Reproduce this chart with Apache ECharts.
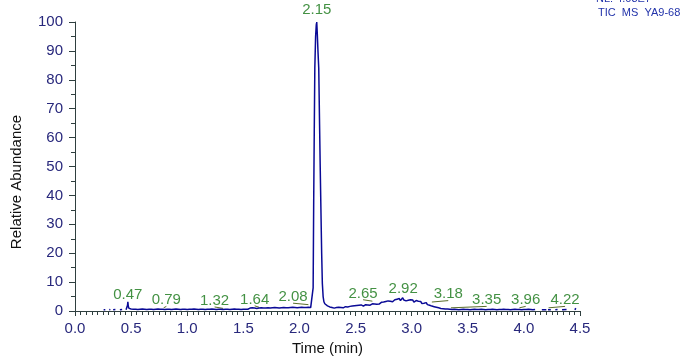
<!DOCTYPE html>
<html>
<head>
<meta charset="utf-8">
<script src="https://cdn.jsdelivr.net/npm/echarts@6/dist/echarts.min.js"></script>
<style>html,body{margin:0;padding:0;background:#fff}#c{width:685px;height:356px}</style>
</head>
<body>
<div id="c"></div>
<script>
// ---- data (retention time in min, relative abundance in %) ----
const earlyScans = [[0.255,0.4],[0.27,0.4],null,[0.305,0.5],[0.315,0.4],null,[0.34,0.4],[0.36,0.5],null,[0.40,0.4],[0.42,0.5],null];
const spikeTimes = [0.455,0.463,0.468,0.471,0.475,0.482,0.49];
const spikeValues = [0.4,0.7,2.0,3.2,1.6,0.9,0.7];
const base1Start = 0.50, base1Step = 0.02;
const base1Values = [0.7,0.6,0.6,0.5,0.6,0.7,0.6,0.5,0.6,0.6,
                     0.5,0.6,0.7,0.6,0.6,0.5,0.6,0.6,0.5,0.6,
                     0.7,0.6,0.5,0.6,0.6,0.5,0.6,0.6,0.7,0.6,
                     0.5,0.6,0.6,0.5,0.6,0.6,0.7,0.6,0.5,0.6,
                     0.6,0.5,0.6,0.6,0.5,0.6,0.7,0.6,0.6,0.5,
                     0.6,0.6,0.6];
const base2Start = 1.56, base2Step = 0.02;
const base2Values = [1.0,1.1,1.0,0.9,1.0,1.1,1.0,1.0,1.1,1.0,
                     1.1,1.2,1.1,1.0,1.1,1.2,1.1,1.1,1.2,1.3,
                     1.2,1.1,1.2,1.3,1.2,1.2,1.3,1.2];
const peakTimes  = [2.115,2.122,2.127,2.132,2.137,2.144,2.150,2.154,2.159,2.165,2.172,2.178,2.185,2.191,2.198,2.204,2.211,2.218,2.226,2.234];
const peakValues = [1.3,8,38,62,84,95,99,100,96,90,84,68,50,36,20,9.6,5,3.2,2.5,2.3];
const humpStart = 2.24, humpStep = 0.01;
const humpValues = [2.2,1.8,1.5,1.4,1.6,1.2,1.3,1.0,1.4,1.2,
                    1.1,1.3,1.0,1.2,1.4,1.1,1.3,1.5,1.2,1.4,
                    1.3,1.6,1.4,1.7,1.5,1.8,1.6,1.9,1.7,2.0,
                    1.8,2.1,1.9,1.7,2.0,2.2,1.9,2.1,2.3,2.0,
                    2.2,2.5,2.1,2.4,2.6,2.3,2.8,2.4,2.7,3.0,
                    2.6,3.1,2.8,3.3,2.9,3.5,3.0,3.4,3.8,3.2,
                    3.6,3.9,3.3,4.1,3.7,4.3,3.6,4.0,4.6,3.8,
                    4.2,3.5,4.0,3.7,3.3,3.9,3.4,3.8,3.1,3.5,
                    3.6,3.0,3.4,2.8,3.3,2.6,3.0,2.7,2.4,2.9,
                    2.2,2.6,2.0,2.3,1.7,2.0,1.5,1.7,1.3,1.4,
                    1.1,1.2,0.9,1.0,0.8,0.8,0.7,0.6,0.7,0.6,
                    0.6,0.5];
const tailStart = 3.36, tailStep = 0.02;
const tailValues = [0.5,0.6,0.5,0.4,0.5,0.6,0.5,0.5,0.4,0.5,
                    0.6,0.5,0.5,0.6,0.5,0.4,0.5,0.5,0.6,0.5,
                    0.4,0.5,0.5,0.6,0.5,0.5,0.4,0.5,0.6,0.5,
                    0.5,0.4,0.5,0.5,0.6,0.5,0.4,0.5];
const lateScans = [null,[4.16,0.4],[4.20,0.4],null,[4.215,0.4],[4.23,0.9],[4.24,0.4],null,[4.28,0.4],[4.30,0.5],null,[4.34,0.4],[4.38,0.5],null,[4.455,0.4],[4.462,1.0],[4.47,0.4]];

// peak apex labels
const peakLabels = [0.47,0.79,1.32,1.64,2.08,2.15,2.65,2.92,3.18,3.35,3.96,4.22];
const xTicks = {min:0, max:4.5, step:0.5};
const yTicks = {min:0, max:100, step:10};
const headerLines = ['NL: 4.03E7','TIC  MS  YA9-68'];

// ---- annotation layout (label centre in axis units), kept apart from the data ----
const labelAnchor = [[0.471,5.5],[0.814,3.8],[1.244,3.6],[1.601,4.0],[1.943,4.9],[2.154,104.2],
                     [2.567,6.1],[2.924,7.5],[3.326,5.8],[3.668,3.8],[4.016,3.8],[4.367,3.8]];
const leaderOn = [false,true,true,true,true,false,true,false,true,true,true,true];

// ---- build the trace ----
const trace = [];
function pushPair(p){ if(p===null){ const last = trace.length?trace[trace.length-1][0]:0; trace.push([last+0.0005,'-']); } else trace.push(p); }
earlyScans.forEach(pushPair);
spikeTimes.forEach((t,i)=>trace.push([t,spikeValues[i]]));
base1Values.forEach((v,i)=>trace.push([+(base1Start+i*base1Step).toFixed(3),v]));
base2Values.forEach((v,i)=>trace.push([+(base2Start+i*base2Step).toFixed(3),v]));
peakTimes.forEach((t,i)=>trace.push([t,peakValues[i]]));
humpValues.forEach((v,i)=>trace.push([+(humpStart+i*humpStep).toFixed(3),v]));
tailValues.forEach((v,i)=>trace.push([+(tailStart+i*tailStep).toFixed(3),v]));
lateScans.forEach(pushPair);

const labelData = peakLabels.map((rt,i)=>({value:labelAnchor[i], name:rt.toFixed(2)}));
const leaderData = [];
peakLabels.forEach((rt,i)=>{
  if(!leaderOn[i]) return;
  const a = labelAnchor[i];
  leaderData.push({coords:[[a[0],a[1]-2.2],[rt,a[1]-2.7]]});
});

const navy = '#28287c', axisCol = '#2f3f3f', green = '#147514';
const FONT = 'Arial, "Liberation Sans", sans-serif';

const chart = echarts.init(document.getElementById('c'), null, {renderer:'canvas'});
chart.setOption({
  animation:false,
  backgroundColor:'#fff',
  grid:{left:75, right:105, top:22, bottom:45, containLabel:false, outerBoundsMode:'none'},
  xAxis:{
    type:'value', min:xTicks.min, max:xTicks.max, interval:xTicks.step,
    name:'Time (min)', nameLocation:'middle', nameGap:28,
    nameTextStyle:{color:'#111', fontSize:15, fontFamily:FONT},
    axisLine:{show:true, onZero:false, lineStyle:{color:axisCol, width:1}},
    axisTick:{show:true, length:5, lineStyle:{color:axisCol}},
    minorTick:{show:true, splitNumber:10, length:4, lineStyle:{color:axisCol}},
    splitLine:{show:false},
    axisLabel:{formatter:v=>v.toFixed(1), color:navy, fontSize:15, fontFamily:FONT, margin:10}
  },
  yAxis:{
    type:'value', min:yTicks.min, max:yTicks.max, interval:yTicks.step,
    axisLine:{show:true, lineStyle:{color:axisCol, width:1}},
    axisTick:{show:true, length:6, lineStyle:{color:axisCol}},
    minorTick:{show:true, splitNumber:2, length:4, lineStyle:{color:axisCol}},
    splitLine:{show:false},
    axisLabel:{color:navy, fontSize:15, fontFamily:FONT, margin:12}
  },
  graphic:[
    {type:'text', x:17, y:182, rotation:Math.PI/2,
     style:{text:'Relative Abundance', fill:'#111', font:'15px '+FONT, textAlign:'center', textVerticalAlign:'middle'}},
    {type:'text', x:596, y:-1,
     style:{text:headerLines[0], fill:'#2233aa', font:'11px '+FONT, textAlign:'left', textVerticalAlign:'middle'}},
    {type:'text', x:598, y:13,
     style:{text:headerLines[1], fill:'#2233aa', font:'11px '+FONT, textAlign:'left', textVerticalAlign:'middle'}}
  ],
  series:[
    {type:'line', data:trace, symbol:'none', connectNulls:false, silent:true,
     lineStyle:{color:'#0a0a96', width:1.5}, z:3},
    {type:'lines', coordinateSystem:'cartesian2d', data:leaderData, silent:true,
     lineStyle:{color:'#5b6e2a', width:1, opacity:1}, z:2},
    {type:'scatter', data:labelData, symbolSize:1, clip:false, silent:true,
     itemStyle:{color:'rgba(0,0,0,0)'},
     label:{show:true, position:'inside', formatter:p=>p.name, color:green, fontSize:15, fontFamily:FONT}, z:4}
  ]
});
</script>
</body>
</html>
